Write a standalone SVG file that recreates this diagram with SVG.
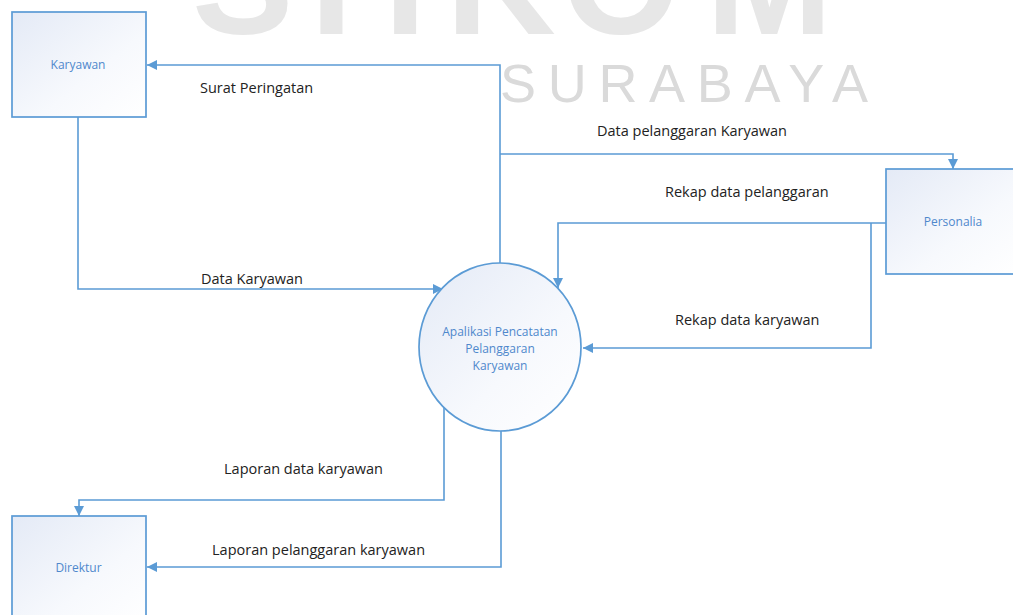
<svg xmlns="http://www.w3.org/2000/svg" width="1013" height="615" viewBox="0 0 1013 615">
  <defs>
    <linearGradient id="nodeFill" x1="0" y1="0" x2="1" y2="1">
      <stop offset="0" stop-color="#e4eaf6"/>
      <stop offset="0.6" stop-color="#f7f9fd"/>
      <stop offset="1" stop-color="#ffffff"/>
    </linearGradient>
    <marker id="arrow" viewBox="0 0 10 10" refX="10" refY="5" markerWidth="10" markerHeight="10" markerUnits="userSpaceOnUse" orient="auto">
      <path d="M0,0 L10,5 L0,10 z" fill="#5b9bd5"/>
    </marker>
    <style>
      .box { fill: url(#nodeFill); stroke: #5b9bd5; stroke-width: 1.7; }
      .node-label { font-family: "Open Sans", "Noto Sans", sans-serif; font-size: 12px; fill: #4f88cc; text-anchor: middle; }
      .flow { fill: none; stroke: #5b9bd5; stroke-width: 1.6; marker-end: url(#arrow); }
      .flow-label { font-family: "Open Sans", "Noto Sans", sans-serif; font-size: 14.5px; fill: #222222; }
      .mark-big { font-family: "Liberation Sans", Arial, sans-serif; font-weight: bold; font-size: 152px; fill: #e7e7e7; }
      .mark-small { font-family: "Liberation Sans", Arial, sans-serif; font-size: 54px; fill: #dadada; }
    </style>
  </defs>

  <rect width="1013" height="615" fill="#ffffff"/>

  <!-- background watermark -->
  <g id="watermark">
    <text class="mark-big" y="34"><tspan x="192">S</tspan><tspan x="285">T</tspan><tspan x="384">I</tspan><tspan x="446">K</tspan><tspan x="562">O</tspan><tspan x="706">M</tspan></text>
    <text class="mark-small" x="500" y="102" textLength="368" lengthAdjust="spacing">SURABAYA</text>
  </g>

  <!-- data flows -->
  <g id="connectors">
    <path class="flow" d="M500,264 V65 H147"/>
    <path class="flow" d="M500,154 H953 V169"/>
    <path class="flow" d="M886,223 H558 V288"/>
    <path class="flow" d="M871,223 V348 H583"/>
    <path class="flow" d="M78,117 V289 H443"/>
    <path class="flow" d="M444,407 V500 H79 V516"/>
    <path class="flow" d="M501,429 V567 H147"/>
  </g>

  <g id="flow-labels">
    <text class="flow-label" x="200" y="93">Surat Peringatan</text>
    <text class="flow-label" x="597" y="136">Data pelanggaran Karyawan</text>
    <text class="flow-label" x="665" y="197">Rekap data pelanggaran</text>
    <text class="flow-label" x="675" y="325">Rekap data karyawan</text>
    <text class="flow-label" x="201" y="284">Data Karyawan</text>
    <text class="flow-label" x="224" y="474">Laporan data karyawan</text>
    <text class="flow-label" x="212" y="555">Laporan pelanggaran karyawan</text>
  </g>

  <!-- external entities -->
  <g id="karyawan">
    <rect class="box" x="12" y="12" width="134" height="105"/>
    <text class="node-label" x="78" y="69">Karyawan</text>
  </g>

  <g id="personalia">
    <rect class="box" x="886" y="169" width="134" height="105"/>
    <text class="node-label" x="953" y="226">Personalia</text>
  </g>

  <g id="direktur">
    <rect class="box" x="12" y="516" width="134" height="110"/>
    <text class="node-label" x="78.5" y="572">Direktur</text>
  </g>

  <!-- process -->
  <g id="proses">
    <ellipse class="box" cx="500" cy="347" rx="81" ry="84"/>
    <text class="node-label" x="500" y="336">Apalikasi Pencatatan</text>
    <text class="node-label" x="500" y="353">Pelanggaran</text>
    <text class="node-label" x="500" y="370">Karyawan</text>
  </g>
</svg>
